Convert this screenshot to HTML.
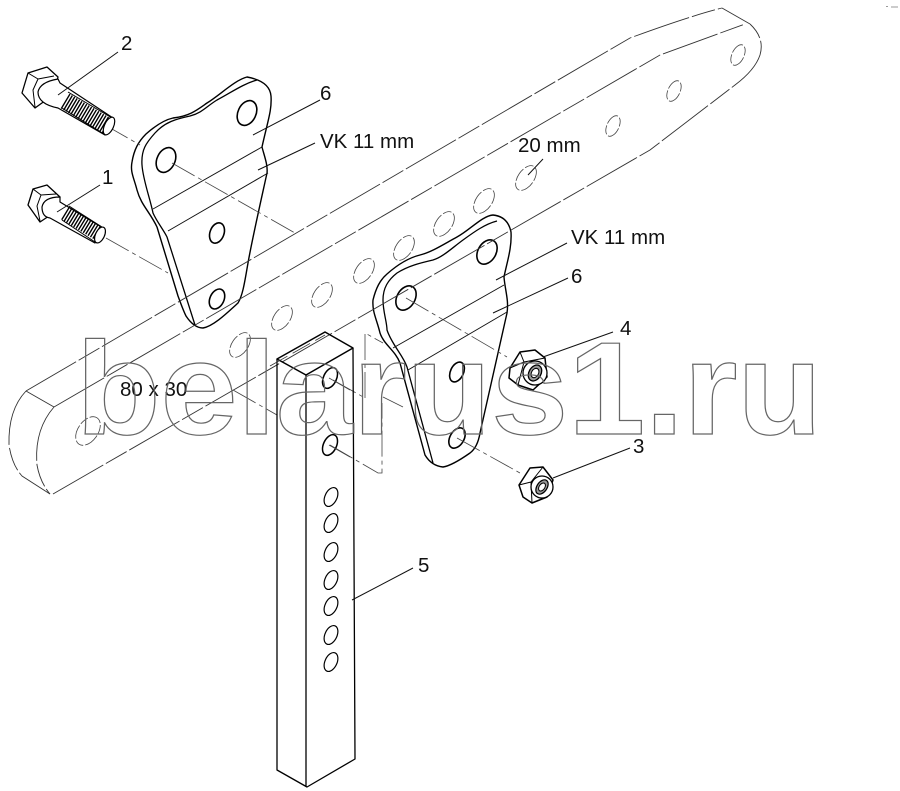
<!DOCTYPE html>
<html><head><meta charset="utf-8"><style>
html,body{margin:0;padding:0;background:#fff}
svg{display:block}
text{font-family:"Liberation Sans",sans-serif;font-size:20.5px;fill:#111}
.l{fill:none;stroke:#111;stroke-width:1}
.b{fill:none;stroke:#333;stroke-width:.9;stroke-dasharray:58 3 24 3}
.h{fill:none;stroke:#444;stroke-width:.8;stroke-dasharray:14 2 9 2}
.a{fill:none;stroke:#444;stroke-width:.8;stroke-dasharray:26 4 4 4}
.p{fill:#fff;stroke:#000;stroke-width:1.4;stroke-linejoin:round}
.i{fill:none;stroke:#000;stroke-width:1.3}
.o{fill:#fff;stroke:#000;stroke-width:1.6}
.t{fill:none;stroke:#000;stroke-width:1.2}
</style></head><body>
<svg width="900" height="791" viewBox="0 0 900 791" xmlns="http://www.w3.org/2000/svg">
<rect width="900" height="791" fill="#fff"/>
<path d="M886 6.500h2M891 7h7" stroke="#999" stroke-width="1" fill="none"/>

<!-- beam holes -->
<g class="h">
<ellipse cx="88" cy="431" rx="10" ry="16" transform="rotate(35 88 431)"/>
<ellipse cx="240" cy="345" rx="8" ry="14" transform="rotate(35 240 345)"/>
<ellipse cx="282" cy="318" rx="8" ry="14" transform="rotate(35 282 318)"/>
<ellipse cx="322" cy="295" rx="8" ry="14" transform="rotate(35 322 295)"/>
<ellipse cx="364" cy="271" rx="8" ry="14" transform="rotate(35 364 271)"/>
<ellipse cx="404" cy="248" rx="8" ry="14" transform="rotate(35 404 248)"/>
<ellipse cx="444" cy="224" rx="8" ry="14" transform="rotate(35 444 224)"/>
<ellipse cx="484" cy="201" rx="8" ry="14" transform="rotate(35 484 201)"/>
<ellipse cx="526" cy="178" rx="8" ry="14" transform="rotate(35 526 178)"/>
<ellipse cx="613" cy="126" rx="6" ry="11" transform="rotate(25 613 126)"/>
<ellipse cx="674" cy="91" rx="6" ry="11" transform="rotate(25 674 91)"/>
<ellipse cx="738" cy="55" rx="6" ry="11" transform="rotate(25 738 55)"/>
</g>

<!-- plates -->
<path class="p" d="M247 77C258 79 270 84 271 96C272 110 268 120 262 147C264 155 268 165 267 173C260 205 252 240 248 263C245 280 243 295 238 303C228 312 214 326 203 328C196 328 190 322 186 316C183 310 181 304 178 296L157 227C150 212 141 205 137 190C134 178 130 172 132 162C134 150 138 142 146 134C155 126 164 120 173 118C190 116 197 110 207 103C220 95 235 80 247 77Z"/>
<path class="i" d="M257 80C243 84 232 92 217 100C207 106 202 113 190 116C176 119 165 122 155 133C146 143 141 150 142 165C143 180 150 198 153 213C157 222 163 229 167 237L195 325"/>
<path class="p" d="M493 215C503 216 509 222 511 232C512 248 507 262 504 277C505 290 509 300 507 313L480 433C478 445 474 450 470 453C460 460 450 466 443 467C433 466 428 460 425 455L400 363C395 350 384 345 380 333C377 320 372 312 373 300C376 288 380 280 387 274C396 266 408 258 420 255C432 252 444 244 457 237C470 230 482 216 493 215Z"/>
<path class="i" d="M497 221C485 224 474 232 463 240C452 248 443 257 433 260C420 263 408 266 397 273C388 280 383 288 383 300C383 312 387 322 387 330C392 345 403 355 407 367L433 463"/>
<g class="o">
<ellipse cx="247" cy="113" rx="9" ry="13" transform="rotate(25 247 113)"/>
<ellipse cx="166" cy="160" rx="9" ry="13" transform="rotate(25 166 160)"/>
<ellipse cx="217" cy="233" rx="7" ry="10.500" transform="rotate(20 217 233)"/>
<ellipse cx="217" cy="299" rx="7" ry="10.500" transform="rotate(25 217 299)"/>
<ellipse cx="487" cy="252" rx="9" ry="13" transform="rotate(30 487 252)"/>
<ellipse cx="406" cy="298" rx="9" ry="13" transform="rotate(30 406 298)"/>
<ellipse cx="457" cy="372" rx="6.500" ry="10.500" transform="rotate(25 457 372)"/>
<ellipse cx="457" cy="438" rx="7" ry="11" transform="rotate(30 457 438)"/>
</g>

<!-- bend lines -->
<path class="l" d="M153 209L262 147M168 231L268 173M393 348L504 285M408 370L507 312"/>

<!-- beam outline -->
<g class="b">
<path d="M26 391L630 38Q690 16 722 8"/>
<path d="M54 407L660 55L745 24"/>
<path d="M53 494L650 150L735 85Q755 70 760 55Q765 38 750 24"/>
<path d="M722 8L750 24"/>
<path d="M26 391Q8 410 9 445Q12 465 22 476L50 494"/>
<path d="M54 407Q34 430 37 465Q40 482 50 494"/>
<path d="M26 391L54 407"/>
</g>

<!-- axis lines -->
<g class="a">
<path d="M105 125L140 145M106 238L168 273"/>
<path d="M172 163L295 233"/>
<path d="M233 390L277 415M333 380L365 398M365 398L365 333L383 343"/>
<path d="M383 397L403 407M330 445L378 473L382 473L382 403"/>
<path d="M406 298L507 357M457 438L520 473"/>
</g>

<!-- post -->
<g fill="none" stroke="#000" stroke-linejoin="round">
<path stroke-width="1.5" d="M277 359L325 332L353 348L306 375Z"/>
<path stroke-width="1.300" d="M277 359V770L307 787L355 759L353 348M306 375V787"/>
</g>
<path d="M270 366L325 335" stroke="#333" stroke-width=".8" stroke-dasharray="20 6" fill="none"/>
<g class="t">
<ellipse cx="330" cy="378" rx="6.500" ry="11" transform="rotate(25 330 378)" stroke-width="1.500"/>
<ellipse cx="330" cy="445" rx="6.500" ry="11" transform="rotate(25 330 445)" stroke-width="1.500"/>
<ellipse cx="331" cy="497" rx="6" ry="10" transform="rotate(25 331 497)"/>
<ellipse cx="331" cy="523" rx="6" ry="10" transform="rotate(25 331 523)"/>
<ellipse cx="331" cy="552" rx="6" ry="10" transform="rotate(25 331 552)"/>
<ellipse cx="331" cy="580" rx="6" ry="10" transform="rotate(25 331 580)"/>
<ellipse cx="331" cy="606" rx="6" ry="10" transform="rotate(25 331 606)"/>
<ellipse cx="331" cy="635" rx="6" ry="10" transform="rotate(25 331 635)"/>
<ellipse cx="331" cy="662" rx="6" ry="10" transform="rotate(25 331 662)"/>
</g>
<path d="M329 378L350 390M329 445L350 457" class="a"/>

<!-- bolt 2 -->
<g stroke="#000" stroke-linejoin="round">
<path d="M28 73L47 67L58 77L53 95L35 108L22 93Z" fill="#fff" stroke-width="1.300"/>
<path d="M28 73L38 79L54 76M38 79L33 90L35 107" fill="none" stroke-width="1"/>
<path d="M58 79Q40 82 38 92Q38 104 58 108L105 135L113 118L60 83Z" fill="#fff" stroke-width="1.200"/>
<path d="M65 101L107 126" fill="none" stroke="#000" stroke-width="17" stroke-dasharray="1.400 1.400"/>
<path d="M68 92L112 118M62 108L104 134" fill="none" stroke-width="1"/>
<ellipse cx="109" cy="126" rx="4.500" ry="9.500" transform="rotate(25 109 126)" fill="#fff" stroke-width="1.200"/>
<!-- bolt 1 -->
<path d="M33 189L47 185L60 197L55 212L40 222L28 205Z" fill="#fff" stroke-width="1.300"/>
<path d="M33 189L41 195L56 194M41 195L37 206L40 221" fill="none" stroke-width="1"/>
<path d="M60 197Q44 197 42 207Q42 217 50 218L95 243L103 228L60 202Z" fill="#fff" stroke-width="1.200"/>
<path d="M65 213L98 233" fill="none" stroke="#000" stroke-width="15" stroke-dasharray="1.400 1.400"/>
<path d="M69 206L102 227M62 220L95 242" fill="none" stroke-width="1"/>
<ellipse cx="100" cy="235" rx="4.500" ry="8.500" transform="rotate(25 100 235)" fill="#fff" stroke-width="1.200"/>
<!-- nut 4 -->
<path d="M520 352L535 350L545 358L547 377L533 390L518 385L509 378L510 368Z" fill="#fff" stroke-width="1.500"/>
<path d="M520 352L524 362L545 358M524 362L518 385M510 368L524 362" fill="none" stroke-width="1"/>
<circle cx="535" cy="373" r="12" fill="#fff" stroke-width="1.300"/>
<ellipse cx="535" cy="373" rx="6" ry="8.500" transform="rotate(30 535 373)" fill="#999" stroke-width="1.300"/>
<ellipse cx="535" cy="373" rx="3.500" ry="5" transform="rotate(30 535 373)" fill="#fff" stroke-width="1"/>
<!-- nut 3 -->
<path d="M519 485L530 468L543 467L553 480L547 497L532 503L523 497Z" fill="#fff" stroke-width="1.500"/>
<path d="M519 485L531 482L543 467M531 482L532 503" fill="none" stroke-width="1"/>
<circle cx="542" cy="487" r="11" fill="#fff" stroke-width="1.300"/>
<ellipse cx="542" cy="487" rx="5" ry="8" transform="rotate(35 542 487)" fill="#999" stroke-width="1.200"/>
<ellipse cx="542" cy="487" rx="2.800" ry="4.500" transform="rotate(35 542 487)" fill="#fff" stroke-width="1"/>
</g>

<!-- leaders -->
<path class="l" d="M58 95L118 52M57 212L100 185M253 135L320 100M258 170L315 143M528 175L543 159M496 280L567 243M493 313L568 278M543 357L613 332M553 478L630 448M352 600L413 568"/>

<!-- labels -->
<text x="121" y="50">2</text>
<text x="320" y="100">6</text>
<text x="320" y="148">VK 11 mm</text>
<text x="518" y="152">20 mm</text>
<text x="102" y="184">1</text>
<text x="571" y="244">VK 11 mm</text>
<text x="571" y="283">6</text>
<text x="620" y="335">4</text>
<text x="633" y="453">3</text>
<text x="120" y="396">80 x 30</text>
<text x="418" y="572">5</text>

<!-- watermark -->
<text x="76" y="434" textLength="746" lengthAdjust="spacingAndGlyphs" style="font-size:132px;font-weight:bold;fill:none;stroke:#666;stroke-width:1.200">belarus1.ru</text>
</svg>
</body></html>
